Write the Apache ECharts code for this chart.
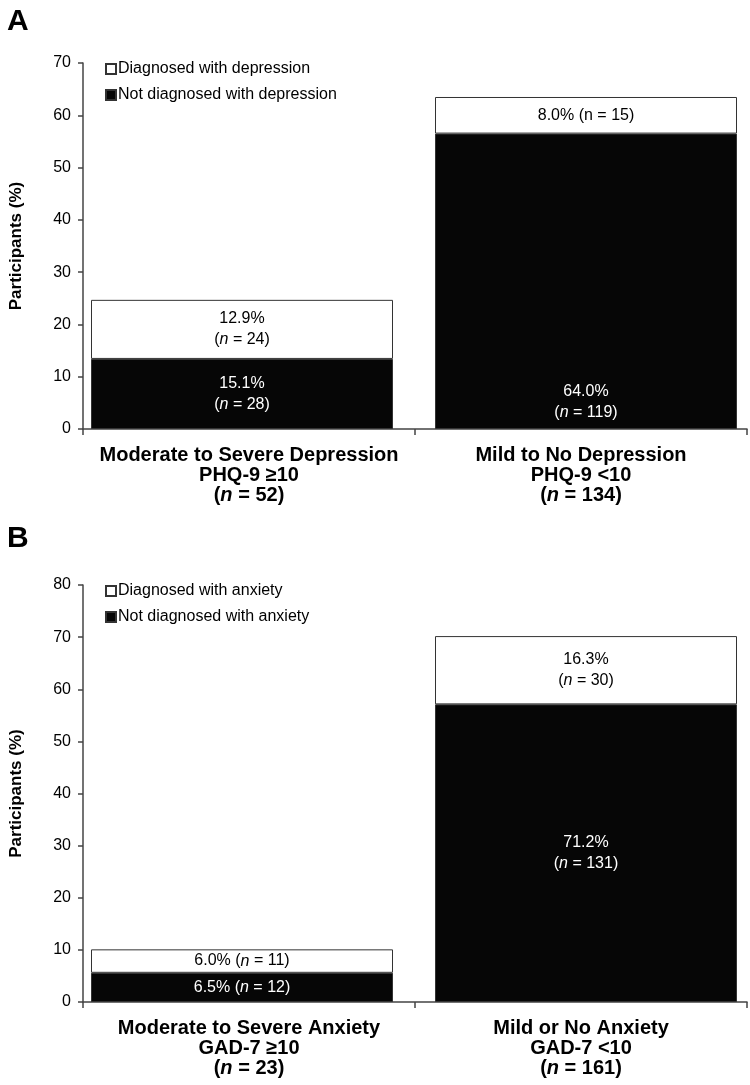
<!DOCTYPE html>
<html><head><meta charset="utf-8">
<script src="https://cdn.jsdelivr.net/npm/echarts@6/dist/echarts.min.js"></script>
<style>html,body{margin:0;padding:0;background:#fff;overflow:hidden;width:750px}#c{width:780px;height:1085px}</style>
</head><body><div id="c"></div>
<script>
// Panel A data
var catsA = ['{b|Moderate to Severe Depression}\n{b|PHQ-9 ≥10}\n{b|(}{bi|n}{b| = 52)}',
             '{b|Mild to No Depression}\n{b|PHQ-9 <10}\n{b|(}{bi|n}{b| = 134)}'];
var notDiagA = [13.4, 56.5];
var diagA = [11.3, 7.0];
var notDiagALabels = ['15.1%\n({i|n} = 28)', '64.0%\n({i|n} = 119)'];
var diagALabels = ['12.9%\n({i|n} = 24)', '8.0% (n = 15)'];
var ticksA = {min: 0, max: 70, interval: 10};
var legendA = ['Diagnosed with depression', 'Not diagnosed with depression'];

// Panel B data
var catsB = ['{b|Moderate to Severe Anxiety}\n{b|GAD-7 ≥10}\n{b|(}{bi|n}{b| = 23)}',
             '{b|Mild or No Anxiety}\n{b|GAD-7 <10}\n{b|(}{bi|n}{b| = 161)}'];
var notDiagB = [5.6, 57.1];
var diagB = [4.5, 13.1];
var notDiagBLabels = ['6.5% ({i|n} = 12)', '71.2%\n({i|n} = 131)'];
var diagBLabels = ['6.0% ({i|n} = 11)', '16.3%\n({i|n} = 30)'];
var ticksB = {min: 0, max: 80, interval: 10};
var legendB = ['Diagnosed with anxiety', 'Not diagnosed with anxiety'];

var FONT = '"Liberation Sans", Arial, sans-serif';
var AX = '#444';
var W = 780; // chart canvas width (page shows 750)

function mkData(vals, labels, posOverride) {
  return vals.map(function (v, i) {
    var lab = {show: true, formatter: labels[i]};
    if (posOverride && posOverride[i]) { lab.position = posOverride[i].position; lab.distance = posOverride[i].distance; }
    return {value: v, label: lab};
  });
}
function labelStyle(color) {
  return {show: true, position: 'inside', color: color, fontFamily: FONT, fontSize: 16, lineHeight: 21,
    rich: {i: {fontStyle: 'italic', color: color, fontFamily: FONT, fontSize: 16, lineHeight: 21}}};
}
function xAxis(idx, cats) {
  return {type: 'category', gridIndex: idx, data: cats,
    axisLine: {lineStyle: {color: AX, width: 1.5}},
    axisTick: {show: true, length: 6, lineStyle: {color: AX, width: 1.5}, alignWithLabel: false},
    axisLabel: {margin: 16, interval: 0, color: '#000', lineHeight: 20,
      rich: {b: {fontFamily: FONT, fontWeight: 'bold', fontSize: 20, color: '#000', lineHeight: 20},
             bi: {fontFamily: FONT, fontWeight: 'bold', fontStyle: 'italic', fontSize: 20, color: '#000', lineHeight: 20}}}};
}
function yAxis(idx, t) {
  return {type: 'value', gridIndex: idx, min: t.min, max: t.max, interval: t.interval,
    name: 'Participants (%)', nameLocation: 'middle', nameGap: 58,
    nameTextStyle: {fontFamily: FONT, fontWeight: 'bold', fontSize: 17, color: '#000'},
    axisLine: {show: true, lineStyle: {color: AX, width: 1.5}},
    axisTick: {show: true, length: 5, lineStyle: {color: AX, width: 1.5}},
    axisLabel: {margin: 12, color: '#000', fontFamily: FONT, fontSize: 16},
    splitLine: {show: false}};
}
function hiddenX(idx, n) {
  return {type: 'category', gridIndex: idx, data: n, show: false};
}
function hiddenY(idx, t) {
  return {type: 'value', gridIndex: idx, min: t.min, max: t.max, interval: t.interval, show: false, splitLine: {show: false}};
}
function legend(names, top) {
  return {orient: 'vertical', left: 100, top: top, itemWidth: 10, itemHeight: 10, itemGap: 8,
    icon: 'rect', data: names, selectedMode: false,
    textStyle: {fontFamily: FONT, fontSize: 16, color: '#000', lineHeight: 18, padding: [0, 0, 0, -3]}};
}
var whiteStyle = {color: '#fff', borderColor: '#333', borderWidth: 1};
var blackStyle = {color: '#060606', borderColor: '#333', borderWidth: 1};
var BW = 302;

var option = {
  animation: false,
  backgroundColor: '#fff',
  title: [
    {text: 'A', left: 2, top: 2, textStyle: {fontFamily: FONT, fontWeight: 'bold', fontSize: 30, color: '#000'}},
    {text: 'B', left: 2, top: 519, textStyle: {fontFamily: FONT, fontWeight: 'bold', fontSize: 30, color: '#000'}}
  ],
  legend: [legend(legendA, 55), legend(legendB, 577)],
  grid: [
    {left: 82, width: 665, top: 63, height: 366},
    {left: 82, width: 665, top: 585, height: 417},
    {left: 70, width: 688, top: 63, height: 366},
    {left: 70, width: 688, top: 585, height: 417}
  ],
  xAxis: [xAxis(0, catsA), xAxis(1, catsB), hiddenX(2, ['a1', 'a2']), hiddenX(3, ['b1', 'b2'])],
  yAxis: [yAxis(0, ticksA), yAxis(1, ticksB), hiddenY(2, ticksA), hiddenY(3, ticksB)],
  series: [
    {name: legendA[1], type: 'bar', stack: 'a', xAxisIndex: 2, yAxisIndex: 2, barWidth: BW,
     itemStyle: blackStyle, label: labelStyle('#fff'),
     data: mkData(notDiagA, notDiagALabels, [null, {position: 'insideBottom', distance: 6}])},
    {name: legendA[0], type: 'bar', stack: 'a', xAxisIndex: 2, yAxisIndex: 2, barWidth: BW,
     itemStyle: whiteStyle, label: labelStyle('#000'),
     data: mkData(diagA, diagALabels)},
    {name: legendB[1], type: 'bar', stack: 'b', xAxisIndex: 3, yAxisIndex: 3, barWidth: BW,
     itemStyle: blackStyle, label: labelStyle('#fff'),
     data: mkData(notDiagB, notDiagBLabels)},
    {name: legendB[0], type: 'bar', stack: 'b', xAxisIndex: 3, yAxisIndex: 3, barWidth: BW,
     itemStyle: whiteStyle, label: labelStyle('#000'),
     data: mkData(diagB, diagBLabels)}
  ]
};
var chart = echarts.init(document.getElementById('c'), null, {renderer: 'canvas', width: W, height: 1085});
chart.setOption(option);
</script></body></html>
